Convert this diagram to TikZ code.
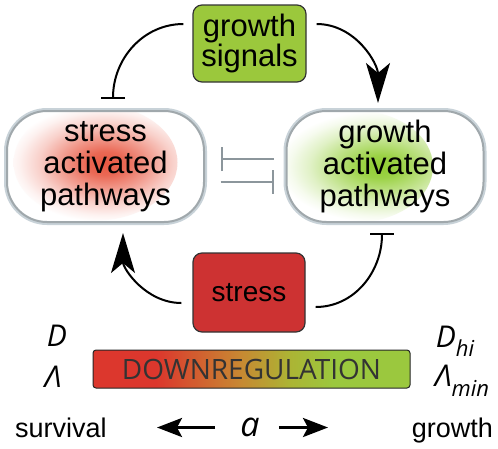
\documentclass[tikz,border=0pt]{standalone}
\usepackage{fontspec}
\setmainfont{Liberation Sans}
\newfontfamily\barfont{Open Sans}
\newfontfamily\italfont{Open Sans}
\usetikzlibrary{arrows.meta}
\definecolor{signalgreen}{RGB}{155,200,60}
\definecolor{stressred}{RGB}{205,50,50}
\definecolor{blobred}{RGB}{232,88,66}
\definecolor{blobgreen}{RGB}{145,205,50}
\definecolor{pillrim}{RGB}{160,168,172}
\definecolor{pillglow}{RGB}{200,210,216}
\definecolor{crossgray}{RGB}{140,150,156}
\definecolor{barred}{RGB}{220,55,45}
\definecolor{barorange}{RGB}{200,135,50}
\definecolor{baryellow}{RGB}{172,180,52}
\definecolor{bargreen}{RGB}{155,200,62}
\pgfdeclarehorizontalshading{downreg}{100bp}{color(0bp)=(barred); color(35bp)=(barred); color(48bp)=(barorange); color(56bp)=(baryellow); color(63bp)=(bargreen); color(100bp)=(bargreen)}
\pgfdeclareradialshading{redblob}{\pgfpointorigin}{color(0bp)=(blobred); color(5bp)=(blobred!90!white); color(11bp)=(blobred!60!white); color(17bp)=(blobred!28!white); color(22bp)=(blobred!8!white); color(25bp)=(white); color(50bp)=(white)}
\pgfdeclareradialshading{greenblob}{\pgfpointorigin}{color(0bp)=(blobgreen); color(5bp)=(blobgreen!90!white); color(11bp)=(blobgreen!60!white); color(17bp)=(blobgreen!28!white); color(22bp)=(blobgreen!8!white); color(25bp)=(white); color(50bp)=(white)}
\begin{document}
\begin{tikzpicture}[
x=1pt, y=-1pt,
pathway/.style={rectangle, rounded corners=40pt, minimum width=197pt, minimum height=111pt,
  draw=pillrim, line width=2pt, fill=white, preaction={draw=pillglow, line width=6pt},
  align=center, font=\fontsize{31}{32}\selectfont},
signal/.style={rectangle, rounded corners=9pt, draw=black!80, line width=1.2pt, align=center},
activate/.style={line width=2pt, -{Stealth[length=40pt, width=24pt, inset=10pt]}},
inhibit/.style={line width=2pt, -{Bar[width=24pt]}},
crosstalk/.style={draw=crossgray, line width=2pt, -{Bar[width=24pt]}},
scalearrow/.style={line width=3pt, -{Stealth[length=25pt, width=19pt, inset=5pt]}},
]
\useasboundingbox (0,0) rectangle (498,448);
\node[signal, fill=signalgreen, minimum width=113pt, minimum height=77pt,
  font=\fontsize{31}{30}\selectfont] (signals) at (249.5,43.5) {growth\\signals};
\node[pathway, path picture={\shade[shading=redblob]
  ([xshift=-10pt, yshift=4pt]path picture bounding box.center) ellipse [x radius=82pt, y radius=58pt];}]
  (stresspath) at (105.5,166.5) {stress\\activated\\pathways};
\node[pathway, path picture={\shade[shading=greenblob]
  ([xshift=-30pt]path picture bounding box.center) ellipse [x radius=78pt, y radius=56pt];}]
  (growthpath) at (385,166.5) {growth\\activated\\pathways};
\node[signal, fill=stressred, minimum width=112pt, minimum height=79pt,
  font=\fontsize{28}{28}\selectfont] (stress) at (249,292.5) {stress};
\node[rectangle, rounded corners=3pt, draw=black!85, line width=1pt, shading=downreg,
  minimum width=317pt, minimum height=38pt, text=black!80,
  font=\barfont\fontsize{28}{28}\selectfont] (downreg) at (251.5,369) {DOWNREGULATION};

\draw[inhibit] ([xshift=-9pt, yshift=19.5pt]signals.west) to[out=180, in=90] ([xshift=7.5pt, yshift=11pt]stresspath.north);
\draw[activate] ([xshift=10pt, yshift=19.5pt]signals.east) to[out=0, in=90] ([xshift=-7pt, yshift=7pt]growthpath.north);
\draw[activate] ([xshift=-11pt, yshift=-10.5pt]stress.west) to[out=180, in=-90] ([xshift=17.5pt, yshift=-10pt]stresspath.south);
\draw[inhibit] ([xshift=10pt, yshift=-14.5pt]stress.east) to[out=0, in=-90] ([xshift=-3pt, yshift=-10pt]growthpath.south);
\draw[crosstalk] ([xshift=-12pt, yshift=7.5pt]growthpath.west) -- ([xshift=15.5pt, yshift=7.5pt]stresspath.east);
\draw[crosstalk] ([xshift=15.5pt, yshift=-15.5pt]stresspath.east) -- ([xshift=-12pt, yshift=-15.5pt]growthpath.west);

\node[font=\italfont\itshape\fontsize{30}{30}\selectfont] (dlow) at (57,336) {D};
\node[font=\italfont\itshape\fontsize{30}{30}\selectfont] (lamlow) at (53,377) {Λ};
\node[font=\italfont\itshape\fontsize{30}{30}\selectfont] (dhigh) at (455,341)
  {D\raisebox{-9pt}{\fontsize{22}{22}\selectfont hi}};
\node[font=\italfont\itshape\fontsize{30}{30}\selectfont] (lammin) at (462,381)
  {Λ\raisebox{-10pt}{\fontsize{22}{22}\selectfont min}};
\node[anchor=base west, font=\fontsize{27}{27}\selectfont, inner sep=0pt] (survival) at (15,437) {survival};
\node[anchor=base east, font=\fontsize{27}{27}\selectfont, inner sep=0pt] (growth) at (493,437) {growth};
\node[font=\italfont\itshape\fontsize{34}{34}\selectfont, inner sep=0pt] (avar) at (250,427.5) {a};
\coordinate (lefttip) at (157,427.5);
\coordinate (righttip) at (328,427.5);
\draw[scalearrow] ([xshift=-25pt]avar.west) -- (lefttip);
\draw[scalearrow] ([xshift=19pt]avar.east) -- (righttip);
\end{tikzpicture}
\end{document}
